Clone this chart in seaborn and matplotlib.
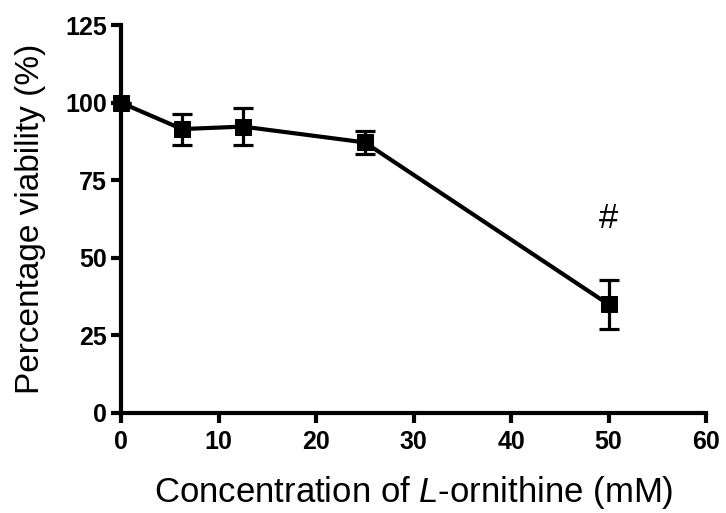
import matplotlib
matplotlib.use("Agg")
import matplotlib.pyplot as plt
import seaborn as sns
import pandas as pd

# L-ornithine concentration (mM) vs cell viability
concentration = [0, 6.25, 12.5, 25, 50]
viability = [100, 91.5, 92.3, 87.2, 35.0]
sem = [0.0, 5.0, 6.0, 3.8, 8.0]
x_ticks = [0, 10, 20, 30, 40, 50, 60]
y_ticks = [0, 25, 50, 75, 100, 125]

df = pd.DataFrame({"conc": concentration, "viab": viability, "err": sem})

sns.set_theme(style="ticks")
plt.rcParams["font.family"] = ["Liberation Sans", "DejaVu Sans"]
plt.rcParams["mathtext.fontset"] = "custom"
plt.rcParams["mathtext.it"] = "Liberation Sans:italic"
plt.rcParams["mathtext.rm"] = "Liberation Sans"
for key in ("text.color", "axes.labelcolor", "xtick.color", "ytick.color",
            "xtick.labelcolor", "ytick.labelcolor"):
    plt.rcParams[key] = "black"

fig = plt.figure(figsize=(7.26, 5.13), dpi=100)
ax = fig.add_axes([0.1667, 0.195, 0.8058, 0.756])

ax.errorbar(df["conc"], df["viab"], yerr=df["err"], fmt="none",
            ecolor="black", elinewidth=2.3, capsize=7, capthick=2.3, zorder=2)
sns.lineplot(data=df, x="conc", y="viab", ax=ax, color="black", linewidth=3,
             marker="s", markersize=11, markeredgecolor="black",
             markerfacecolor="black", zorder=3, clip_on=False)

ax.text(50, 57.5, "#", ha="center", va="bottom", fontsize=25, color="black")

ax.set_xlim(0, 60)
ax.set_ylim(0, 125)
ax.set_xticks(x_ticks)
ax.set_yticks(y_ticks)
ax.tick_params(axis="both", direction="out", length=7, width=3,
               labelsize=18, color="black", labelcolor="black")
ax.tick_params(axis="x", pad=5)
ax.tick_params(axis="y", pad=3)
for lab in ax.get_xticklabels() + ax.get_yticklabels():
    lab.set_fontweight("bold")

for side in ("left", "bottom"):
    ax.spines[side].set_linewidth(3)
    ax.spines[side].set_color("black")
sns.despine(ax=ax)

ax.set_xlabel("Concentration of $\\mathit{L}$-ornithine (mM)", fontsize=25,
              labelpad=15, color="black")
ax.set_ylabel("Percentage viability (%)", fontsize=24, labelpad=14, color="black")

fig.savefig("out.png", dpi=100)
